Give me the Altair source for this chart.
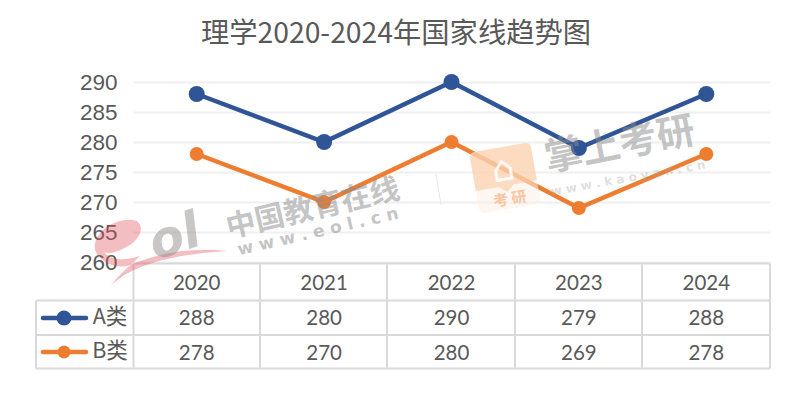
import altair as alt
import pandas as pd

years = ["2020", "2021", "2022", "2023", "2024"]
a_vals = [288, 280, 290, 279, 288]
b_vals = [278, 270, 280, 269, 278]
y_ticks = [260, 265, 270, 275, 280, 285, 290]
title_text = "理学2020-2024年国家线趋势图"
BLUE, ORANGE = "#2f5597", "#ed7d31"
TXT = "#595959"
CJK = "Noto Sans CJK SC"

PL, PT, W, H = 125, 74, 637, 180
def X(p): return p - (PL + 8)
def Y(p): return p - (PT + 8)

df = pd.DataFrame({"year": years * 2, "v": a_vals + b_vals,
                   "s": ["A类"] * 5 + ["B类"] * 5})
xs = alt.Scale(type="point", domain=years, padding=0.5)
ys = alt.Scale(domain=[260, 290], nice=False, zero=False)
xe = alt.X("year:N", scale=xs, axis=None)
ye = alt.Y("v:Q", scale=ys, title=None,
           axis=alt.Axis(values=y_ticks, grid=True, gridColor="#f0f0f0", gridWidth=2,
                         domain=False, ticks=False, labelFontSize=22.5, labelFont="Liberation Sans",
                         labelColor=TXT, labelPadding=16))
layers = []
one = alt.Data(values=[{"a": 1}])

def rule(x1, y1, x2, y2, color="#d9d9d9", w=2):
    return alt.Chart(one).mark_rule(color=color, strokeWidth=w).encode(
        x=alt.value(X(x1)), x2=alt.value(X(x2)), y=alt.value(Y(y1)), y2=alt.value(Y(y2)))

def label(t, x, y, size, color=TXT, font=CJK, angle=0, opacity=1, weight="normal", style="normal"):
    return alt.Chart(one).mark_text(text=t, fontSize=size, color=color, font=font,
                                    angle=angle % 360, opacity=opacity, fontWeight=weight, fontStyle=style,
                                    align="center", baseline="middle").encode(
        x=alt.value(X(x)), y=alt.value(Y(y)))

def shape(points, x, y, half, color, opacity, angle=0):
    return alt.Chart(one).mark_point(shape=points, filled=True, fill=color, opacity=opacity, strokeWidth=0,
                                     size=(2 * half) ** 2, angle=angle % 360).encode(
        x=alt.value(X(x)), y=alt.value(Y(y)))

# axis / grid base plus series
base = alt.Chart(df).encode(x=xe, y=ye)
for s, c, d in [("A类", BLUE, 16), ("B类", ORANGE, 14)]:
    sub = base.transform_filter(alt.datum.s == s)
    layers.append(sub.mark_line(color=c, strokeWidth=4.5))
    layers.append(sub.mark_point(filled=True, fill=c, opacity=1, size=d ** 2, strokeWidth=0))

# table grid
for yy in [263.5]:
    layers.append(rule(133, yy, 770, yy))
for yy in [300.5, 335, 368.5]:
    layers.append(rule(36, yy, 770, yy))
for xx in [133.5, 260, 387, 515, 642, 770]:
    layers.append(rule(xx, 263.5, xx, 368.5))
layers.append(rule(36, 300.5, 36, 368.5))

# table text
tbl = alt.Chart(df)
layers.append(alt.Chart(pd.DataFrame({"year": years})).mark_text(
    font="Lato", fontSize=20.5, color=TXT).encode(x=xe, y=alt.value(Y(284)), text="year:N"))
for s, yy in [("A类", 319), ("B类", 354)]:
    layers.append(tbl.transform_filter(alt.datum.s == s).mark_text(
        font="Lato", fontSize=20.5, color=TXT).encode(x=xe, y=alt.value(Y(yy)), text="v:Q"))

# legend keys
for yy, c, d, t in [(318, BLUE, 15, "A类"), (352, ORANGE, 13, "B类")]:
    layers.append(alt.Chart(one).mark_rule(color=c, strokeWidth=4.5, strokeCap="round").encode(
        x=alt.value(X(43)), x2=alt.value(X(86)), y=alt.value(Y(yy))))
    layers.append(alt.Chart(one).mark_point(filled=True, fill=c, opacity=1, size=d ** 2, strokeWidth=0).encode(
        x=alt.value(X(64)), y=alt.value(Y(yy))))
    layers.append(label(t, 110, yy, 21.5))

# title
layers.append(label(title_text, 396, 34.5, 28.3))

# eol watermark
def unit(pts, cx, cy, half):
    out = []
    for p in pts:
        if isinstance(p, str):
            out.append(p)
        else:
            out.append(f"{(p[0]-cx)/half:.3f} {(p[1]-cy)/half:.3f}")
    return " ".join(out)

swoosh = unit(["M", (110, 287), "C", (125, 270), (160, 255), (227, 251), "C", (195, 247), (160, 252), (130, 265),
               "C", (115, 270), (100, 262), (95, 250), "C", (92, 232), (115, 218), (133, 220),
               "C", (145, 222), (143, 238), (128, 246), "C", (118, 252), (108, 255), (104, 252),
               "C", (112, 262), (128, 260), (140, 256), "C", (130, 266), (118, 275), (110, 287), "Z"], 160, 253, 66)
layers.append(shape(swoosh, 160, 253, 66, "#e2525c", 0.38))
layers.append(label("ol", 175, 238, 50, color="#8f8a8a", font="DejaVu Sans", angle=-18, opacity=0.48,
                    weight="bold", style="italic"))
layers.append(label("中国教育在线", 313, 209, 29.5, color="#8c8c8c", angle=-13, opacity=0.5, weight="bold"))
layers.append(label("w w w . e o l . c n", 318, 232, 17, color="#8c8c8c", font="DejaVu Sans",
                    angle=-13, opacity=0.5, weight="bold"))

# kaoyan watermark
rounded = "M -1 -0.8 Q -1 -1 -0.8 -1 L 0.8 -1 Q 1 -1 1 -0.8 L 1 0.8 Q 1 1 0.8 1 L -0.8 1 Q -1 1 -1 0.8 Z"
upper = "M -1 -0.8 Q -1 -1 -0.8 -1 L 0.8 -1 Q 1 -1 1 -0.8 L 1 0.25 L 0.25 0.25 L 0 0.45 L -0.25 0.25 L -1 0.25 Z"
layers.append(shape(rounded, 505, 178, 31, "#fdeee3", 0.55, angle=-10))
layers.append(shape(upper, 505, 178, 31, "#f9c49a", 0.55, angle=-10))
layers.append(label("考  研", 510, 199, 15, color="#f4a66e", angle=-10, opacity=0.6, weight="bold"))
layers.append(label("⌂", 503, 170, 36, color="#ffffff", font="DejaVu Sans", angle=-10, opacity=0.9))
layers.append(label("掌上考研", 620, 146, 38, color="#8c8c8c", angle=-11, opacity=0.5, weight="bold"))
layers.append(label("w w w . k a o y a n . c n", 628, 178, 12, color="#a6a6a6", font="DejaVu Sans",
                    angle=-10, opacity=0.35, weight="bold"))
layers.append(rule(436, 174, 441, 205, color="#e8e8e8", w=1))

chart = alt.layer(*layers).properties(
    width=W, height=H,
    padding={"left": PL, "top": PT, "right": 16, "bottom": 125},
    autosize=alt.AutoSizeParams(type="none"),
    background="#ffffff",
).configure_view(stroke=None)

chart.save("out.html", embed_options={"renderer": "svg", "actions": False})
